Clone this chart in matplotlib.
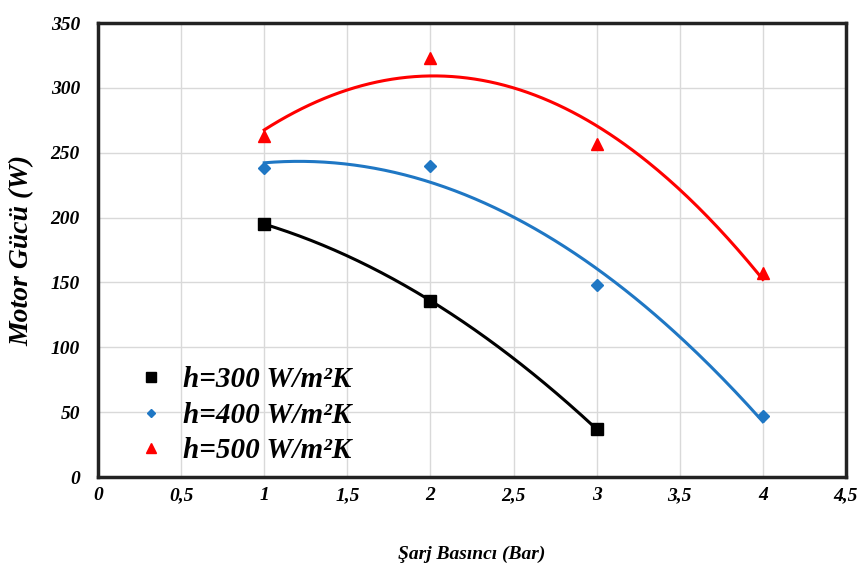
import numpy as np
import matplotlib
matplotlib.use("Agg")
import matplotlib.pyplot as plt

# Data
pressure = [1, 2, 3, 4]
power_h300 = [195, 136, 37]
power_h400 = [238, 240, 148, 47]
power_h500 = [263, 323, 257, 157]

series = [
    ("h=300 W/m²K", pressure[:3], power_h300, "black", "s"),
    ("h=400 W/m²K", pressure, power_h400, "#1f77c4", "D"),
    ("h=500 W/m²K", pressure, power_h500, "#ff0000", "^"),
]

xticks = [0, 0.5, 1, 1.5, 2, 2.5, 3, 3.5, 4, 4.5]
xticklabels = ["0", "0,5", "1", "1,5", "2", "2,5", "3", "3,5", "4", "4,5"]
yticks = [0, 50, 100, 150, 200, 250, 300, 350]

plt.rcParams["font.family"] = ["Liberation Serif", "DejaVu Serif"]

fig = plt.figure(figsize=(8.63, 5.68), dpi=100)
ax = fig.add_axes([0.1136, 0.160, 0.8666, 0.7995])

for label, x, y, color, marker in series:
    # quadratic trend line, like the spreadsheet original
    coef = np.polyfit(x, y, 2)
    xs = np.linspace(min(x), max(x), 200)
    ax.plot(xs, np.polyval(coef, xs), color=color, lw=2.2, zorder=2)
    ms = 6 if marker == "D" else 9
    ax.plot(x, y, linestyle="none", marker=marker, color=color, ms=ms,
            label=label, zorder=3)

ax.set_xlim(0, 4.5)
ax.set_ylim(0, 350)
ax.set_xticks(xticks)
ax.set_xticklabels(xticklabels)
ax.set_yticks(yticks)
ax.grid(True, color="#d9d9d9", lw=1)
ax.set_axisbelow(True)
for sp in ax.spines.values():
    sp.set_linewidth(2.5)
    sp.set_color("#222222")
ax.tick_params(axis="y", length=0, pad=13)
ax.tick_params(axis="x", length=0, pad=7)
for t in ax.get_xticklabels() + ax.get_yticklabels():
    t.set_fontsize(14)
    t.set_fontweight("bold")
    t.set_fontstyle("italic")

ax.set_xlabel("Şarj Basıncı (Bar)", fontsize=14, fontstyle="italic",
              fontweight="bold", labelpad=30)
ax.set_ylabel("Motor Gücü (W)", fontsize=20, fontstyle="italic",
              fontweight="bold", labelpad=12)

leg = ax.legend(loc="lower left", bbox_to_anchor=(0.02, -0.03), frameon=False,
                prop={"size": 21, "weight": "bold", "style": "italic"},
                handlelength=0.8, handletextpad=0.7, labelspacing=0.3,
                markerscale=0.75)

fig.savefig("out.png", dpi=100)
